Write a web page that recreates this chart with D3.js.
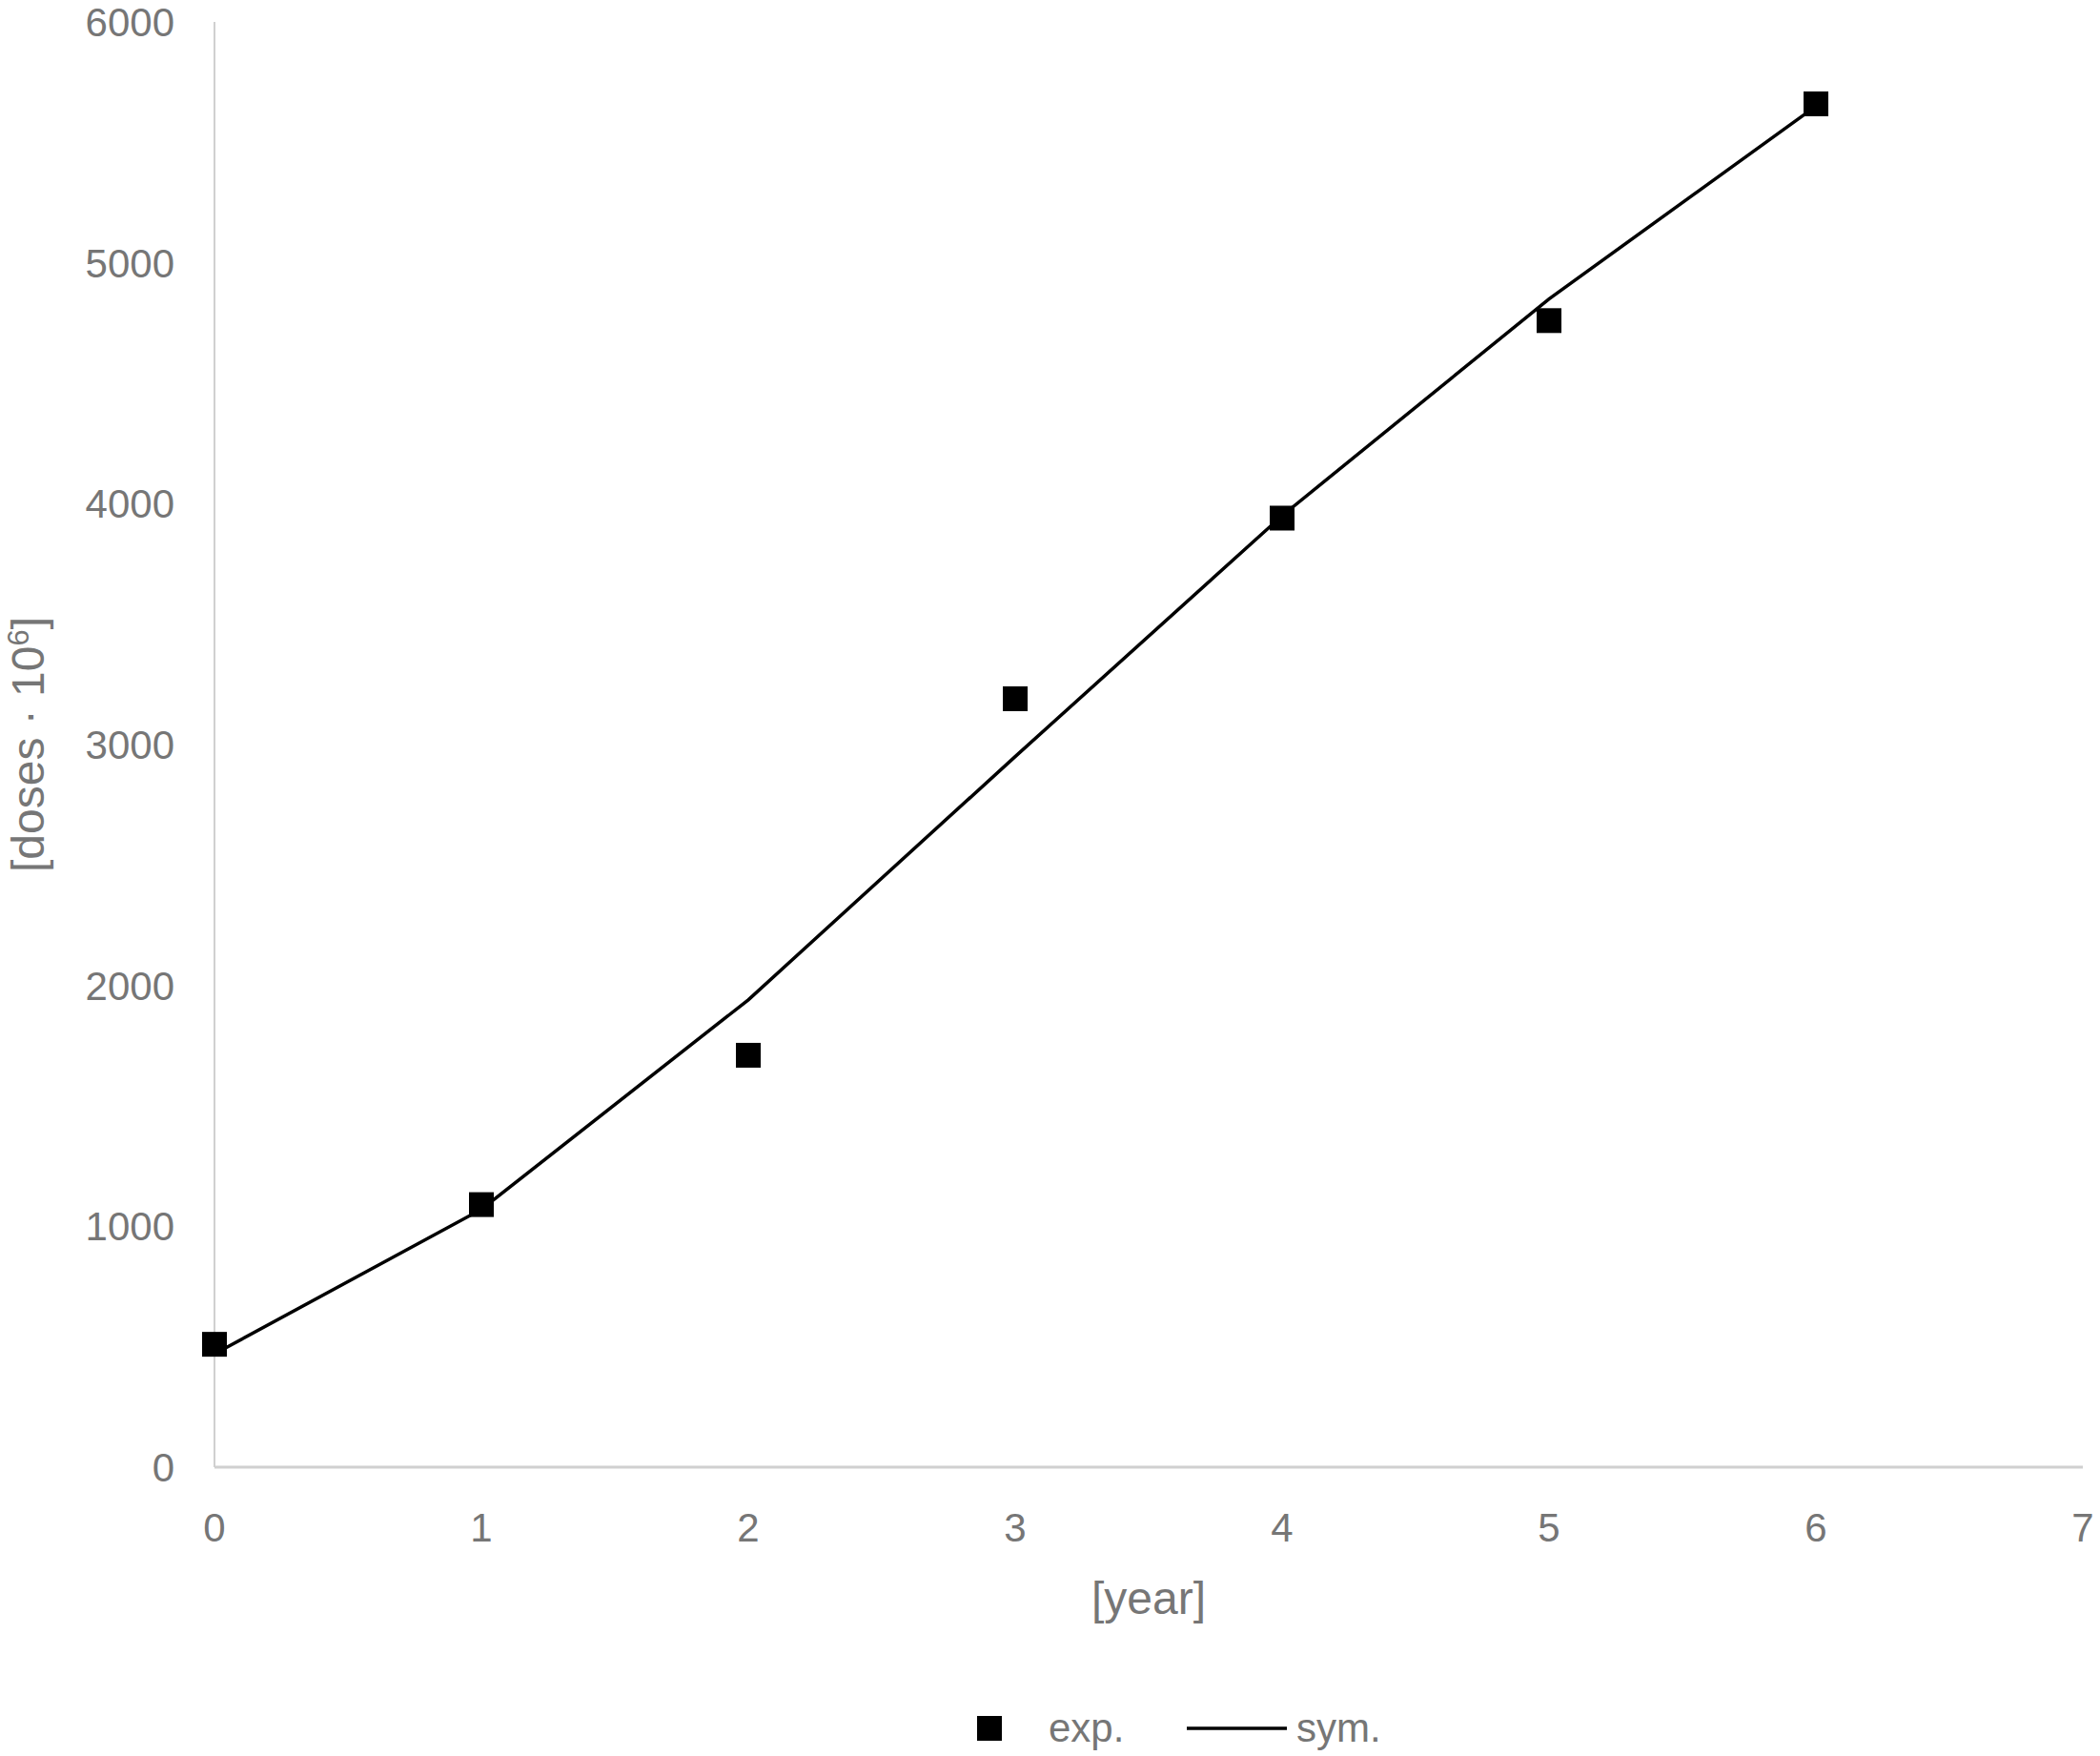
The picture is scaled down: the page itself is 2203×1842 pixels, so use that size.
<!DOCTYPE html><html><head><meta charset="utf-8"><script src="https://cdn.jsdelivr.net/npm/d3@7"></script>
<style>body{margin:0;background:#fff}text{font-family:"Liberation Sans",Arial,sans-serif;fill:#767676}</style></head><body>
<svg id="c" width="2203" height="1842"></svg>
<script>
const years=[0,1,2,3,4,5,6];
const expVals=[510,1090,1710,3190,3940,4760,5660];
const symVals=[470,1070,1940,2950,3950,4850,5650];
const xTicks=[0,1,2,3,4,5,6,7];
const yTicks=[0,1000,2000,3000,4000,5000,6000];
const svg=d3.select("#c");
const x=d3.scaleLinear().domain([0,7]).range([225,2185]);
const y=d3.scaleLinear().domain([0,6000]).range([1539,23]);
svg.append("line").attr("x1",x(0)).attr("x2",x(0)).attr("y1",y(6000)).attr("y2",y(0)).attr("stroke","#d0d0d0").attr("stroke-width",2);
svg.append("line").attr("x1",x(0)).attr("x2",x(7)).attr("y1",y(0)).attr("y2",y(0)).attr("stroke","#d0d0d0").attr("stroke-width",3);
svg.selectAll(".yt").data(yTicks).join("text").attr("x",x(0)-42).attr("y",d=>y(d)+15).attr("text-anchor","end").attr("font-size",42).text(d=>d);
svg.selectAll(".xt").data(xTicks).join("text").attr("x",d=>x(d)).attr("y",1617).attr("text-anchor","middle").attr("font-size",42).text(d=>d);
svg.append("text").attr("x",1205).attr("y",1693).attr("text-anchor","middle").attr("font-size",48).text("[year]");
const yl=svg.append("text").attr("transform","translate(46,"+y(3000)+") rotate(-90)").attr("text-anchor","middle").attr("font-size",48);
yl.append("tspan").text("[doses · 10");yl.append("tspan").attr("dy",-16).attr("font-size",31).text("6");yl.append("tspan").attr("dy",16).text("]");
svg.append("path").datum(years.map((d,i)=>[d,symVals[i]])).attr("d",d3.line().x(d=>x(d[0])).y(d=>y(d[1]))).attr("fill","none").attr("stroke","#000").attr("stroke-width",3.5);
svg.selectAll(".m").data(years).join("rect").attr("x",d=>x(d)-13).attr("y",(d,i)=>y(expVals[i])-13).attr("width",26).attr("height",26).attr("fill","#000");
svg.append("rect").attr("x",1025).attr("y",1800).attr("width",26).attr("height",26).attr("fill","#000");
svg.append("text").attr("x",1100).attr("y",1827).attr("font-size",42).text("exp.");
svg.append("line").attr("x1",1245).attr("x2",1350).attr("y1",1813).attr("y2",1813).attr("stroke","#000").attr("stroke-width",3.5);
svg.append("text").attr("x",1360).attr("y",1827).attr("font-size",42).text("sym.");
</script></body></html>
